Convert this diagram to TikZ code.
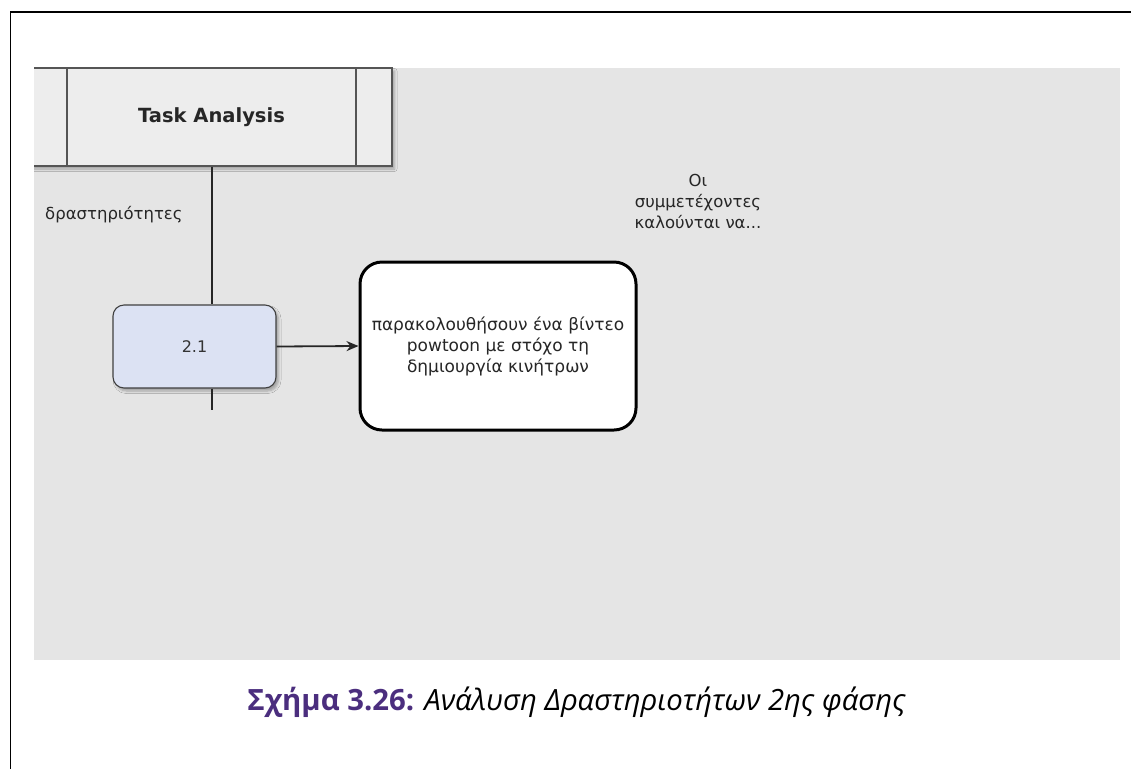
\documentclass[tikz,border=0pt]{standalone}
\usepackage{fontspec}
\setmainfont{DejaVu Sans}
\newfontfamily\capfont{Open Sans}
\usetikzlibrary{arrows.meta,shadows.blur}
\definecolor{panelgray}{HTML}{E5E5E5}
\definecolor{boxgray}{HTML}{EDEDED}
\definecolor{edgegray}{HTML}{555555}
\definecolor{stepblue}{HTML}{DCE2F3}
\definecolor{capviolet}{HTML}{4B2E7E}
\tikzset{
  softshadow/.style={blur shadow={shadow xshift=2.5pt,shadow yshift=-3pt,shadow blur steps=5,shadow blur radius=2.5pt,shadow opacity=30}},
  taskbox/.style={draw=edgegray,line width=1.2pt,fill=boxgray,minimum width=361pt,minimum height=98pt,inner sep=0pt,font=\fontsize{19.5}{22}\selectfont\bfseries,text=black!85,softshadow},
  stepbox/.style={draw=black!75,line width=1.1pt,fill=stepblue,rounded corners=11pt,minimum width=163pt,minimum height=83pt,inner sep=0pt,font=\fontsize{16}{18}\selectfont,text=black!80,softshadow},
  actbox/.style={draw=black,line width=3pt,fill=white,rounded corners=22pt,minimum width=276pt,minimum height=168pt,inner sep=0pt,align=center,font=\fontsize{17}{21}\selectfont,text=black!85},
  flow/.style={draw=black!85,line width=1.3pt},
  lbl/.style={inner sep=0pt,align=center,font=\fontsize{16.5}{21}\selectfont,text=black!85},
}
\begin{document}
\begin{tikzpicture}[x=1pt,y=-1pt]
\useasboundingbox (0,0) rectangle (1131,769);
% page frame: top and left rules
\draw[line width=1.3pt] (1131,12) -- (10.5,12) -- (10.5,769);
% grey canvas
\fill[panelgray] (34,68) rectangle (1120,660);
% task analysis header, cut off by the canvas edge on the left
\begin{scope}
  \clip (34,0) rectangle (1131,769);
  \node[taskbox] (task) at (211.5,117) {Task Analysis};
  \draw[edgegray,line width=1.2pt] (67,68) -- (67,166) (356,68) -- (356,166);
\end{scope}
% step and activity
\node[stepbox] (s21) at (194.5,346.5) {2.1};
\node[actbox] (act) at (498,346) {παρακολουθήσουν ένα βίντεο\\powtoon με στόχο τη\\δημιουργία κινήτρων};
\coordinate (tail) at (212,410);
\draw[flow] (task.south -| tail) -- (s21.north -| tail);
\draw[flow] (s21.south -| tail) -- (tail);
\draw[flow,line width=1.8pt,-{Stealth[length=12pt,width=10pt]}] (s21.east) -- (act.west);
% labels
\node[lbl,anchor=west] (acts) at (45,215) {δραστηριότητες};
\node[lbl] (intro) at (698,201) {Οι\\συμμετέχοντες\\καλούνται να...};
% caption
\node[inner sep=0pt,font=\capfont\fontsize{29.3}{32}\selectfont] (cap) at (576.5,702)
  {\textcolor{capviolet}{\bfseries Σχήμα 3.26:} \itshape Ανάλυση Δραστηριοτήτων 2ης φάσης};
\end{tikzpicture}
\end{document}
